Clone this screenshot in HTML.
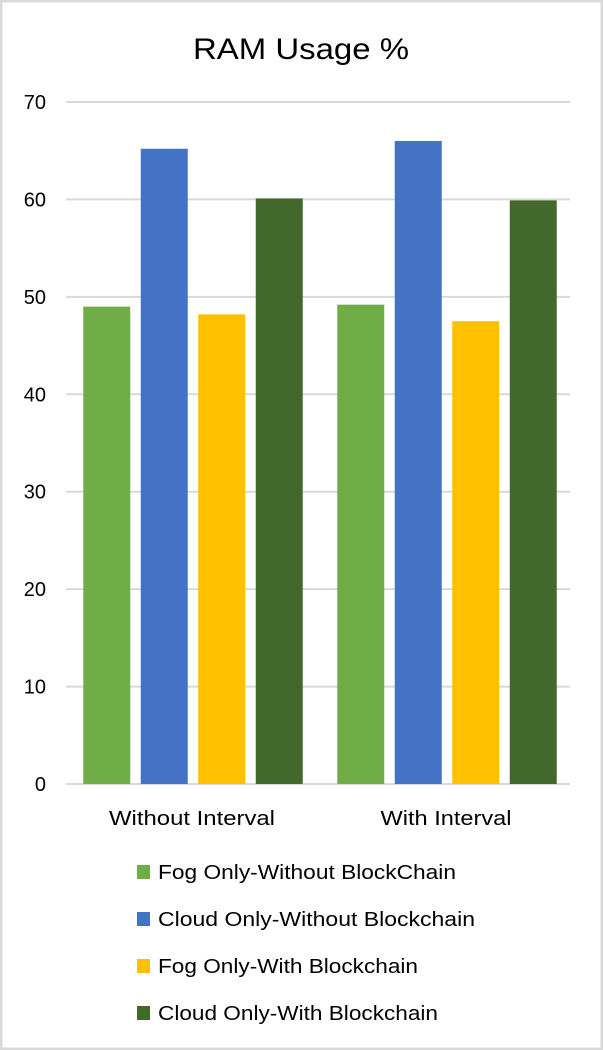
<!DOCTYPE html>
<html><head><meta charset="utf-8"><style>
html,body{margin:0;padding:0;background:#fff}
svg{display:block;font-family:"Liberation Sans",sans-serif}
</style></head><body>
<svg width="603" height="1050" viewBox="0 0 603 1050">
<rect x="1" y="1" width="601" height="1048" fill="#fff" stroke="#d9d9d9" stroke-width="3"/>
<text x="301" y="59" text-anchor="middle" font-size="30" fill="#000" textLength="216" lengthAdjust="spacingAndGlyphs">RAM Usage %</text>
<g id="grid"></g><g id="bars"></g><g id="labels"></g><g id="legend"></g>
</svg>
<script>
const categories = ["Without Interval","With Interval"];
const seriesNames = ["Fog Only-Without BlockChain","Cloud Only-Without Blockchain","Fog Only-With Blockchain","Cloud Only-With Blockchain"];
const seriesColors = ["#70ad47","#4472c4","#ffc000","#43682b"];
const fogWithoutBC = [49.0, 49.2];
const cloudWithoutBC = [65.2, 66.0];
const fogWithBC = [48.2, 47.5];
const cloudWithBC = [60.1, 59.9];
const yTicks = [0,10,20,30,40,50,60,70];
const legendWidths = [298,317,260,280];
const catLabelWidths = [166,131];

const NS="http://www.w3.org/2000/svg";
const series=[fogWithoutBC,cloudWithoutBC,fogWithBC,cloudWithBC];
const plotL=66, plotR=574, y0=784, y70=102;
function y(v){return y0-(v/70)*(y0-y70);}
const catW=(plotR-plotL)/categories.length;
function cx(i){return plotL+catW*(i+0.5);}
function mk(tag,attrs,parent){const e=document.createElementNS(NS,tag);for(const k in attrs)e.setAttribute(k,attrs[k]);parent.appendChild(e);return e;}
const grid=document.getElementById('grid'),bars=document.getElementById('bars'),labels=document.getElementById('labels'),legend=document.getElementById('legend');
yTicks.forEach(t=>{
  const l=mk('line',{x1:66,x2:570,y1:y(t),y2:y(t),stroke:'#d9d9d9','stroke-width':2},grid);
  
  
  const tx=mk('text',{x:46,y:y(t)+7,'text-anchor':'end','font-size':20,fill:'#000'},labels);
  tx.textContent=t;
  
  
});
const barW=47, step=57.5;
categories.forEach((c,i)=>{
  series.forEach((s,j)=>{
    const x=cx(i)-2*step+ (step-barW)/2 + j*step;
    const r=mk('rect',{x:x,y:y(s[i]),width:barW,height:y0-y(s[i]),fill:seriesColors[j]},bars);
    
    
  });
  const t=mk('text',{x:cx(i)-1,y:825,'text-anchor':'middle','font-size':20,fill:'#000',textLength:catLabelWidths[i],lengthAdjust:'spacingAndGlyphs'},labels);
  t.textContent=c;
  
  
});
seriesNames.forEach((n,j)=>{
  const yy=872+j*47;
  const r=mk('rect',{x:137,y:yy-7,width:13,height:14,fill:seriesColors[j]},legend);
  
  
  const t=mk('text',{x:158,y:yy+7,'font-size':20,fill:'#000',textLength:legendWidths[j],lengthAdjust:'spacingAndGlyphs'},legend);
  t.textContent=n;
  
  
});
</script>
</body></html>
